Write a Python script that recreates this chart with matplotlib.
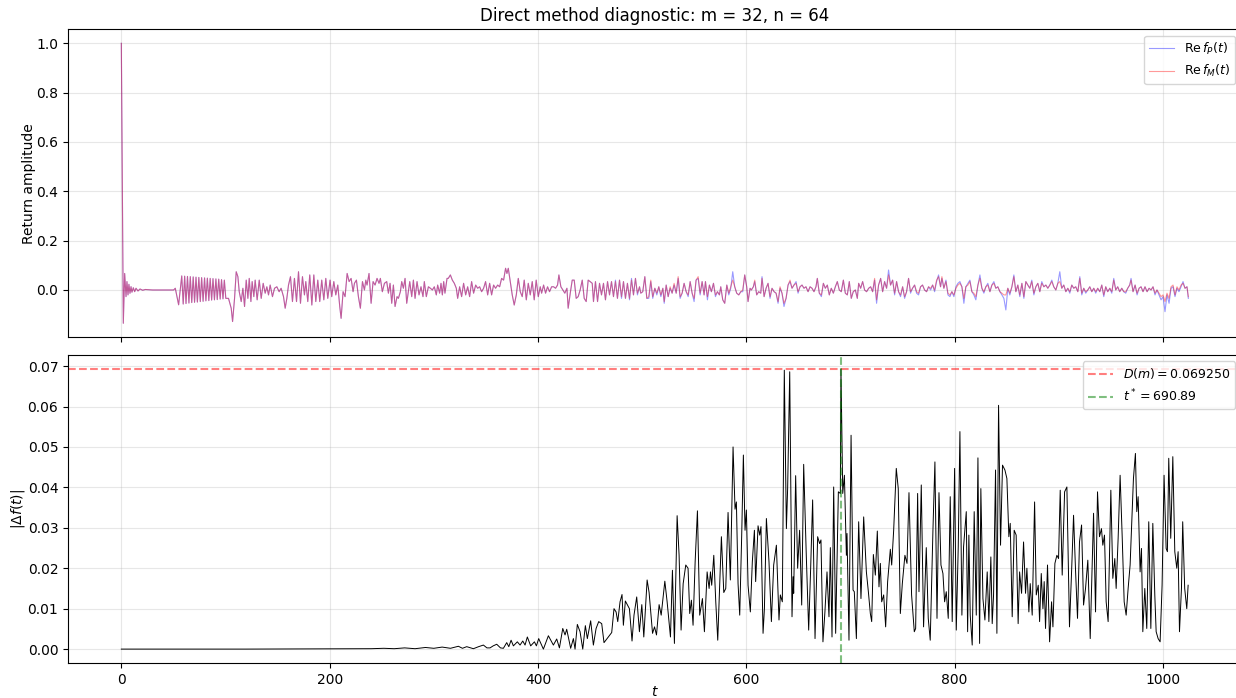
import numpy as np
import matplotlib
matplotlib.use("Agg")
import matplotlib.pyplot as plt

# ---- values ----
m_val = 32
n_val = 64
D_m = 0.069250
t_star = 690.89

# Re f(t): P and M coincide up to t ~ 470
t_early = [0, 1.9, 3.2, 4.5, 5.4, 6.4, 7.3, 8.3, 9.3, 10.2, 11.5, 12.8, 14.1, 16.0, 17.9, 20.5,
           23.0, 30, 40, 50.2, 51.8, 55.0,
           58.0, 59.4, 60.8, 62.1, 63.5, 64.9, 66.2, 67.6, 69.0, 70.3, 71.7, 73.0, 74.4, 75.8,
           77.1, 78.5, 79.9, 81.2, 82.6, 84.0, 85.3, 86.7, 88.0, 89.4, 90.8, 92.1, 93.5, 94.9,
           96.2, 97.6, 98.9, 100.3,
           102.9, 105.5, 106.8, 108.7, 110.3, 111.9, 113.2, 115.1, 116.7, 118.3, 119.9, 121.5,
           122.8, 124.4, 125.6, 127.2, 128.5, 130.4, 132.4, 134.3, 136.2, 138.1, 139.7, 141.3,
           142.9, 145.1, 147.1, 149.3, 151.5, 153.4, 155.7, 157.3, 158.9, 160.5, 162.4, 164.3,
           166.2, 168.2, 170.1, 172.0, 173.9, 175.8, 177.1, 179.0, 180.9, 182.9, 184.8, 186.7,
           188.6, 190.5, 192.4, 194.4, 196.3, 198.2, 200.4, 202.0, 204.0, 205.9, 207.8, 209.7,
           211.0, 212.9, 214.8, 216.8, 218.7, 220.6, 222.5, 223.8, 225.7, 227.6, 229.5, 231.5,
           233.4, 234.7, 235.9, 237.8, 239.8, 241.7, 243.6, 245.5, 247.4, 248.7, 250.6, 252.6,
           254.8, 256.4, 258.0, 259.6, 261.2, 262.8, 264.7, 266.0, 267.9, 269.2, 270.8, 272.4,
           274.0, 275.6, 276.9, 278.8, 280.4, 282.0, 283.9, 285.8, 287.7, 289.6, 290.9, 292.8,
           294.8, 296.7, 298.6, 300.5, 302.4, 303.7, 305.6, 306.9, 308.2, 309.5, 310.7, 312.7,
           313.9, 315.9, 317.8, 319.7, 321.6, 322.9, 324.8, 326.7, 328.6, 330.6, 332.5, 334.4,
           336.3, 338.2, 340.2, 342.1, 344.0, 345.9, 347.8, 349.7, 351.7, 353.6, 355.5, 357.4,
           359.3, 361.3, 363.2, 365.1, 367.0, 368.9, 370.2, 371.5, 373.4, 375.3, 377.2, 379.2,
           381.1, 383.0, 384.9, 386.8, 388.8, 390.7, 392.6, 394.5, 396.4, 398.3, 400.3, 402.2,
           403.5, 405.4, 407.3, 409.2, 411.1, 413.1, 415.0, 416.9, 418.8, 420.1, 422.0, 423.9,
           425.8, 427.8, 429.0, 431.0, 432.9, 434.8, 436.7, 438.6, 440.5, 442.5, 444.4, 446.3,
           448.2, 450.1, 452.1, 453.3, 455.2, 457.2, 459.1, 461.0, 462.9, 464.8, 466.8, 468.7]
re_early = [1.0, -0.135, 0.067, -0.027, 0.034, -0.020, 0.023, -0.0135, 0.0135, -0.009, 0.009, -0.007,
            0.007, -0.004, 0.004, -0.001, 0.002, 0.0, 0.0, 0.0, 0.007, -0.060,
            0.057, -0.057, 0.056, -0.055, 0.055, -0.053, 0.054, -0.051, 0.053, -0.050, 0.052, -0.049,
            0.051, -0.047, 0.050, -0.046, 0.049, -0.044, 0.048, -0.043, 0.047, -0.041, 0.046, -0.040,
            0.045, -0.039, 0.044, -0.037, 0.042, -0.036, 0.040, -0.034,
            -0.034, -0.074, -0.128, -0.034, 0.074, 0.054, -0.007, -0.047, 0.007, -0.067, 0.040, -0.034,
            0.047, -0.047, 0.034, -0.027, 0.040, -0.040, 0.040, -0.034, 0.027, -0.013, 0.013, -0.020,
            0.020, -0.027, 0.007, 0.013, -0.007, 0.007, -0.027, -0.074, -0.034, 0.020, 0.054, -0.047,
            0.047, -0.047, 0.074, -0.054, 0.054, -0.020, 0.034, -0.047, 0.061, -0.061, 0.061, -0.047,
            0.040, -0.047, 0.040, -0.040, 0.047, -0.034, 0.040, -0.027, 0.034, -0.020, 0.020, -0.067,
            -0.115, -0.007, -0.027, 0.067, 0.034, 0.047, -0.007, 0.027, 0.040, -0.027, -0.074, 0.034,
            0.0, 0.040, 0.020, 0.067, -0.054, 0.034, 0.020, 0.047, 0.027, 0.047, -0.007, 0.027,
            0.034, -0.013, 0.027, -0.054, 0.020, -0.067, -0.027, -0.034, -0.007, 0.034, 0.007, 0.047,
            -0.054, -0.007, 0.034, -0.027, 0.040, -0.034, 0.034, -0.020, 0.013, -0.027, 0.034, -0.027,
            0.013, 0.007, 0.0, 0.013, -0.020, 0.020, -0.013, 0.027, -0.020, 0.034, -0.013, 0.047,
            0.047, 0.061, 0.040, 0.027, 0.007, -0.034, 0.013, -0.027, 0.027, -0.020, 0.013, -0.027,
            0.034, -0.013, 0.020, 0.007, 0.013, -0.007, 0.007, 0.034, -0.020, 0.027, -0.020, 0.020,
            0.007, 0.020, 0.013, 0.047, 0.040, 0.088, 0.067, 0.088, 0.034, -0.020, -0.061, -0.020,
            0.047, -0.007, -0.027, 0.040, -0.040, 0.027, -0.020, 0.034, -0.040, 0.040, -0.027, 0.013,
            -0.013, 0.020, -0.013, 0.013, -0.007, 0.013, 0.013, 0.007, 0.020, 0.061, 0.013, 0.0,
            -0.013, 0.007, -0.074, -0.013, 0.040, 0.040, -0.034, -0.027, 0.0, 0.040, -0.034, -0.047,
            0.040, 0.034, 0.027, -0.047, 0.034, -0.047, 0.027, -0.020, 0.027, -0.040, 0.034, -0.020]

# after t ~ 470 the two curves separate slightly
t_late = [470.6, 472.5, 474.4, 476.3, 478.3, 480.2, 482.1, 484.0, 485.9, 487.9, 489.8, 491.7,
          493.6, 495.5, 497.5, 498.7, 500.6, 502.6, 504.5, 506.4, 508.3, 510.2, 512.2, 514.1,
          516.0, 518.0, 519.9, 521.2, 523.1, 525.0, 526.9, 528.8, 530.7, 532.7, 534.6, 536.5,
          538.4, 540.3, 542.3, 544.2, 546.1, 548.0, 549.9, 551.8, 553.8, 555.7, 557.6, 559.5,
          560.8, 562.7, 564.6, 566.5, 568.5, 570.4, 572.3, 574.2, 575.5, 577.4, 579.3, 581.3,
          583.2, 585.1, 587.0, 588.9, 590.8, 592.8, 594.7, 596.6, 598.5, 600.4, 601.7, 603.6,
          604.9, 606.8, 608.1, 610.0, 611.9, 613.9, 615.1, 617.1, 619.0, 620.9, 622.8, 624.7,
          626.7, 628.6, 630.5, 632.4, 634.3, 636.2, 638.2, 640.1, 642.0, 643.9, 645.8, 647.8,
          649.7, 651.6, 653.5, 655.4, 657.3, 659.3, 661.2, 663.1, 665.0, 666.9, 668.2, 670.1,
          672.1, 674.0, 675.9, 677.8, 679.7, 681.6, 683.6, 685.5, 687.4, 689.3, 691.2, 693.2,
          695.1, 697.0, 698.9, 700.8, 702.7, 704.7, 706.6, 707.9, 709.8, 711.7, 713.6, 715.5,
          717.5, 719.4, 721.3, 723.2, 725.1, 727.0, 729.0, 730.9, 732.8, 734.7, 736.6, 738.5,
          740.5, 742.4, 744.3, 746.2, 748.1, 750.1, 752.0, 753.9, 755.8, 757.7, 759.6, 761.6,
          763.5, 765.4, 767.3, 769.2, 771.2, 773.1, 775.0, 777.0, 778.9, 780.8, 782.7, 784.6,
          786.5, 787.8, 789.7, 791.7, 793.6, 795.5, 797.4, 799.3, 801.3, 803.2, 805.1, 807.0,
          808.9, 810.8, 812.8, 814.7, 816.6, 818.5, 820.4, 822.4, 824.3, 826.2, 828.1, 830.0,
          831.9, 833.9, 835.8, 837.7, 839.6, 841.5, 843.5, 845.4, 847.3, 849.2, 851.1, 853.0,
          855.0, 856.9, 858.8, 860.7, 862.6, 864.6, 866.5, 868.4, 870.3, 872.2, 874.1, 876.1,
          878.0, 879.9, 881.8, 883.7, 885.7, 887.6, 889.5, 891.4, 893.3, 895.2, 897.2, 899.1,
          901.0, 902.9, 904.8, 906.8, 908.7, 910.6, 912.5, 914.4, 916.3, 918.3, 920.2, 922.1,
          924.0, 925.9, 927.9, 929.8, 931.7, 933.6, 935.5, 937.4, 939.4, 941.3, 943.2, 945.1,
          947.0, 949.0, 950.9, 952.8, 954.7, 956.6, 958.5, 960.5, 962.4, 964.3, 966.2, 968.1,
          969.4, 971.3, 973.3, 975.2, 977.1, 979.0, 980.9, 982.8, 984.8, 986.7, 988.6, 990.5,
          992.4, 994.3, 996.3, 998.2, 1000.1, 1002.0, 1003.9, 1005.9, 1007.8, 1009.7, 1011.6, 1013.5,
          1015.4, 1017.4, 1019.3, 1021.2, 1023.1, 1024.4]
re_fP_late = [0.034, -0.027, 0.040, -0.034, 0.040, -0.034, 0.034, -0.034, 0.027, -0.040, 0.047, -0.020,
              0.047, -0.020, 0.013, -0.013, -0.007, 0.054, -0.034, -0.034, 0.034, -0.034, 0.007, -0.020,
              0.013, -0.027, 0.007, -0.054, 0.020, -0.027, 0.007, -0.013, 0.020, -0.013, 0.047, -0.034,
              -0.013, 0.027, -0.007, -0.027, 0.034, -0.013, -0.047, 0.040, 0.047, -0.020, 0.034, -0.020,
              0.034, -0.040, 0.020, -0.007, 0.027, -0.027, -0.007, -0.020, 0.013, -0.040, -0.054, 0.020,
              -0.020, 0.007, 0.074, 0.013, -0.013, -0.020, -0.007, -0.007, 0.061, 0.013, -0.047, 0.007,
              0.000, 0.013, 0.034, -0.020, -0.007, -0.013, 0.054, -0.027, 0.007, 0.027, -0.034, 0.007,
              -0.007, -0.013, -0.054, 0.007, -0.013, -0.067, -0.034, 0.020, 0.034, 0.007, 0.020, 0.034,
              -0.013, 0.013, 0.020, 0.007, 0.013, -0.007, 0.013, 0.007, -0.007, 0.013, 0.047, -0.013,
              -0.027, 0.027, 0.007, 0.020, -0.020, 0.007, -0.013, 0.013, 0.034, 0.000, -0.007, 0.040,
              -0.013, -0.020, 0.034, -0.034, -0.007, 0.000, -0.034, 0.027, 0.007, 0.034, 0.000, -0.007,
              0.007, 0.013, -0.007, 0.040, -0.054, 0.020, 0.047, -0.007, 0.034, 0.007, 0.081, 0.020,
              0.040, -0.020, 0.034, -0.007, -0.027, 0.013, -0.034, -0.007, 0.047, -0.013, 0.007, 0.020,
              -0.013, -0.020, 0.013, 0.020, 0.000, -0.007, 0.013, 0.000, 0.020, -0.007, 0.034, 0.061,
              0.013, 0.047, 0.007, 0.040, -0.020, -0.027, -0.007, -0.027, 0.013, 0.027, 0.034, 0.013,
              -0.054, 0.013, 0.027, 0.040, -0.007, -0.020, -0.040, 0.020, 0.061, 0.007, -0.013, 0.013,
              0.027, -0.007, 0.020, 0.034, 0.007, 0.013, -0.007, -0.020, -0.034, -0.081, 0.007, -0.020,
              0.013, 0.061, -0.007, 0.020, -0.027, 0.027, -0.034, 0.034, 0.020, 0.007, 0.040, -0.020,
              0.013, 0.027, -0.007, 0.034, 0.013, 0.020, 0.007, 0.020, 0.040, 0.013, 0.000, 0.027,
              0.074, 0.007, 0.020, -0.007, 0.007, -0.013, 0.020, 0.007, 0.013, -0.007, 0.054, -0.020,
              0.007, -0.013, 0.000, 0.013, -0.007, 0.007, -0.013, 0.007, -0.007, 0.020, -0.027, 0.013,
              -0.007, 0.007, -0.013, 0.047, 0.000, 0.013, -0.007, 0.007, -0.007, -0.013, 0.007, 0.020,
              0.047, -0.007, 0.020, -0.020, 0.007, 0.013, -0.007, 0.013, -0.007, 0.007, 0.000, 0.013,
              -0.020, 0.000, -0.020, -0.040, -0.027, -0.088, -0.020, -0.054, 0.007, 0.013, -0.027, 0.007,
              -0.007, 0.013, 0.034, 0.007, 0.013, -0.034]
re_fM_late = [0.034, -0.027, 0.034, -0.034, 0.040, -0.027, 0.034, -0.034, 0.027, -0.034, 0.040, -0.020,
              0.047, -0.013, 0.013, -0.013, -0.007, 0.054, -0.034, -0.027, 0.040, -0.027, 0.007, -0.013,
              0.013, -0.020, 0.007, -0.047, 0.020, -0.027, 0.013, -0.013, 0.027, -0.013, 0.054, -0.027,
              -0.013, 0.027, -0.007, -0.020, 0.034, -0.013, -0.034, 0.040, 0.054, -0.013, 0.034, -0.020,
              0.034, -0.027, 0.020, -0.007, 0.027, -0.020, -0.007, -0.020, 0.013, -0.040, -0.054, 0.020,
              -0.013, 0.013, 0.040, 0.013, -0.013, -0.020, -0.007, 0.000, 0.061, 0.013, -0.047, 0.007,
              0.000, 0.013, 0.040, -0.020, -0.007, -0.013, 0.047, -0.027, 0.007, 0.027, -0.027, 0.007,
              -0.007, -0.013, -0.047, 0.013, -0.013, -0.054, -0.034, 0.020, 0.040, 0.007, 0.020, 0.027,
              -0.007, 0.013, 0.020, 0.007, 0.013, -0.007, 0.013, 0.007, -0.007, 0.013, 0.047, -0.013,
              -0.020, 0.027, 0.007, 0.020, -0.020, 0.007, -0.013, 0.013, 0.034, 0.000, -0.007, 0.040,
              -0.013, -0.020, 0.034, -0.034, -0.007, 0.000, -0.034, 0.027, 0.007, 0.034, 0.000, -0.007,
              0.007, 0.013, -0.007, 0.047, -0.040, 0.020, 0.047, -0.007, 0.034, 0.007, 0.061, 0.020,
              0.040, -0.013, 0.034, -0.007, -0.020, 0.013, -0.027, -0.007, 0.047, -0.007, 0.007, 0.020,
              -0.007, -0.013, 0.013, 0.020, 0.000, -0.007, 0.013, 0.007, 0.020, 0.000, 0.040, 0.054,
              0.013, 0.054, 0.007, 0.034, -0.013, -0.020, -0.007, -0.020, 0.007, 0.020, 0.027, 0.013,
              -0.034, 0.013, 0.020, 0.034, -0.007, -0.013, -0.027, 0.020, 0.047, 0.007, -0.007, 0.013,
              0.020, -0.007, 0.020, 0.027, 0.007, 0.013, -0.007, -0.013, -0.020, -0.020, 0.007, -0.013,
              0.013, 0.054, -0.007, 0.020, -0.020, 0.027, -0.027, 0.034, 0.020, 0.007, 0.034, -0.013,
              0.013, 0.027, -0.007, 0.027, 0.013, 0.020, 0.007, 0.020, 0.034, 0.013, 0.000, 0.027,
              0.034, 0.007, 0.020, -0.007, 0.007, -0.007, 0.020, 0.007, 0.013, -0.007, 0.047, -0.013,
              0.007, -0.007, 0.000, 0.013, -0.007, 0.007, -0.007, 0.007, -0.007, 0.020, -0.020, 0.013,
              -0.007, 0.007, -0.007, 0.040, 0.000, 0.013, -0.007, 0.007, -0.007, -0.007, 0.007, 0.020,
              0.040, -0.007, 0.020, -0.013, 0.007, 0.013, -0.007, 0.013, -0.007, 0.007, 0.000, 0.013,
              -0.013, 0.000, -0.013, -0.027, -0.020, -0.047, -0.013, -0.034, 0.013, 0.020, -0.020, 0.013,
              0.000, 0.020, 0.027, 0.007, 0.013, -0.027]

# |Delta f(t)|
t_diff = [0, 120, 200, 240, 252, 262, 272, 282, 292, 300, 308, 316, 323.6, 327.5, 331.6, 338,
          343, 347.6, 351, 354, 357, 360.4, 364, 366.8, 370, 372, 374.2, 376.4, 380.2, 382.8,
          385.4, 387.6, 389.8, 393, 396.6, 398.5, 400.7, 405.2, 410, 414.8, 418, 420.6, 423.8,
          426, 427.6, 431.4, 434, 435.6, 437.8, 440.4, 443, 445.5, 447.4, 450.6, 453.2, 455.8,
          458.3, 461.2, 463.4, 467.6, 470.8, 473, 475, 476.6, 478.8, 480.7, 482, 483.9, 485.8,
          487.8, 490.3, 492.2, 494.8, 497.4,
          499.7, 501.6, 504.8, 506.7, 510, 511.9, 513.8, 516.3, 518.3, 521.8, 524, 527.2, 529.1,
          531, 533.6, 535.5, 537.4, 539.4, 541.9, 544.1, 545.7, 547.3, 548.9, 550.9, 553.1, 555.3,
          557.9, 559.8, 562.4, 564.3, 565.6, 566.8, 568.8, 570.7, 572.6, 576.1, 578.4, 580.3,
          582.5, 584.7, 587.3, 589.2, 590.5, 592.1, 593.7, 595.6, 597.2, 598.8, 600.1, 601.7,
          603.9, 605.8, 607.8, 609, 611.3, 612.9, 614.1, 616.1, 617.4, 619.3, 621.8, 624.1,
          626.3, 628.9, 631.4, 632.7, 634.6, 636.5, 638.5, 639.7, 641.7, 643.9, 644.9, 645.5,
          647.4, 649.3, 651.2, 653.2, 655.1, 657.6, 659.9, 661.8, 663.7, 666, 668.5, 670.4,
          671.7, 673.6, 675.5, 677.5, 679.4,
          680.7, 682.3, 683.9, 685.8, 688.4, 690.3, 690.89, 692.6, 694.2, 696.1, 696.7, 698.6,
          700.6, 702.5, 703.7, 705.7, 707.9, 710.1, 712.7, 715.3, 717.2, 719.1, 720.4, 722,
          723.9, 725.8, 727.4, 728.7, 730, 731.9, 733.8, 735.7, 738.3, 739.6, 741.5, 744,
          745.9, 747.9, 749.8, 752.3, 754.3, 756.2, 758.7, 761.3, 762.6, 764.5, 765.8, 768,
          770.2, 772.8, 774.7, 776.6, 779.2, 781.1, 783.1, 785, 786.9, 788.8, 790.4, 792,
          793.9, 795.8, 797.7, 800, 801.6, 803.5, 805.1, 807, 808.6, 811.2, 812.5, 813.7,
          815, 816.9, 818.8, 820.8, 822.4, 824, 825.2, 827.2, 829.1, 831.3, 832.9, 834.8,
          836.1, 837.4, 839.3, 840.6, 842.2, 844.1, 846, 848.3, 850.2, 852.1, 853.4, 855.3,
          857.2, 859.1, 861,
          862.4, 864.3, 866.2, 868.1, 869.4, 871.3, 872.6, 874.5, 876.8, 878.4, 880.3, 881.6,
          883.2, 884.8, 886, 887.3, 889.2, 891.2, 893.1, 894.4, 896.3, 898.2, 899.8, 901.4,
          903.3, 905.6, 907.8, 910.3, 912.3, 914.2, 916.1, 918, 919.9, 921.9, 923.8, 925.7,
          927.9, 930.2, 933.4, 935.3, 937.2, 939.1, 941, 942.3, 943.9, 945.5, 947.4, 950,
          951.9, 953.8, 955.1, 957, 958.9, 960.9, 962.8, 964.7, 966.6, 968.5, 970.5, 971.7,
          973.6, 974.9, 976.2, 978.1, 979.4, 980.7, 982.6, 984.5, 986.4, 988.4, 990.3, 992.2,
          993.5, 995.4, 997.3, 999.2, 1001.1, 1003.1, 1004.3, 1005.6, 1007.5, 1009.5, 1011.4, 1013.3,
          1014.6, 1015.9, 1017.8, 1019, 1020.9, 1022.9, 1024.2]
abs_diff = [0, 0, 0.00005, 0.0001, 0.0002, 0.0001, 0.0003, 0.0001, 0.0004, 0.0002, 0.0005, 0.0002,
            0.0007, 0.0002, 0.0006, 0.0001, 0.0006, 0.001, 0.0003, 0.0003, 0.0008, 0.0012, 0.0003,
            0.0002, 0.0016, 0.0006, 0.0022, 0.0008, 0.0018, 0.001, 0.002, 0.001, 0.003, 0.0008,
            0.0018, 0.0008, 0.0026, 0.0, 0.0033, 0.001, 0.0025, 0.0003, 0.0051, 0.0035, 0.0049,
            0.0002, 0.0026, 0.0, 0.0061, 0.0043, 0.0, 0.0058, 0.0026, 0.007, 0.001, 0.0051, 0.0068,
            0.0063, 0.0016, 0.003, 0.0041, 0.01, 0.0092, 0.0068, 0.0117, 0.0135, 0.0059, 0.0119,
            0.011, 0.01, 0.002, 0.0084, 0.0129, 0.0043,
            0.011, 0.003, 0.0171, 0.014, 0.0039, 0.0055, 0.0035, 0.011, 0.0084, 0.0168, 0.0117,
            0.003, 0.0195, 0.0014, 0.033, 0.0232, 0.0047, 0.0162, 0.0208, 0.02, 0.0088, 0.0121,
            0.0059, 0.0216, 0.0342, 0.0084, 0.0125, 0.0043, 0.0191, 0.015, 0.0191, 0.0158, 0.0232,
            0.0117, 0.0022, 0.0278, 0.014, 0.015, 0.0338, 0.0171, 0.05, 0.0346, 0.0364, 0.0162,
            0.0084, 0.0282, 0.048, 0.0294, 0.0344, 0.0158, 0.0092, 0.0216, 0.0294, 0.0167, 0.0305,
            0.0282, 0.0303, 0.0039, 0.01, 0.0323, 0.0216, 0.0068, 0.0208, 0.0257, 0.0072, 0.0134,
            0.0117, 0.0690, 0.0298, 0.0397, 0.0686, 0.008, 0.0179, 0.0138, 0.0429, 0.02, 0.0294,
            0.0109, 0.0457, 0.0232, 0.0047, 0.02, 0.0369, 0.0026, 0.0278, 0.0261, 0.027, 0.0018,
            0.0092, 0.0191, 0.008,
            0.0251, 0.003, 0.0401, 0.0039, 0.0389, 0.0385, 0.06925, 0.0385, 0.043, 0.0232, 0.0286,
            0.0022, 0.0529, 0.0146, 0.0142, 0.0026, 0.0315, 0.0125, 0.0327, 0.0191, 0.0142, 0.0088,
            0.0068, 0.0234, 0.0183, 0.0292, 0.0154, 0.0212, 0.0117, 0.0134, 0.0055, 0.0167, 0.0247,
            0.0208, 0.0294, 0.0447, 0.0397, 0.0088, 0.0162, 0.0232, 0.0212, 0.0387, 0.0134, 0.0043,
            0.0051, 0.0385, 0.0142, 0.0406, 0.0055, 0.0251, 0.0076, 0.0022, 0.0294, 0.0463, 0.0076,
            0.0387, 0.0208, 0.0187, 0.0117, 0.0142, 0.0076, 0.0377, 0.0068, 0.0447, 0.0047, 0.0253,
            0.0538, 0.0084, 0.0253, 0.034, 0.0043, 0.0282, 0.0084, 0.001, 0.034, 0.0084, 0.0473,
            0.0014, 0.0397, 0.0125, 0.0072, 0.0191, 0.0068, 0.0228, 0.0063, 0.0134, 0.0443, 0.0039,
            0.0603, 0.0257, 0.0455, 0.0443, 0.0422, 0.0278, 0.0311, 0.008, 0.0294, 0.0282, 0.0063,
            0.0191, 0.0138, 0.0265, 0.0138, 0.02, 0.0092, 0.0162, 0.0084, 0.0364, 0.0134, 0.0158,
            0.0068, 0.0187, 0.01, 0.0167, 0.0051, 0.0208, 0.0018, 0.0117, 0.0055, 0.0212, 0.0232,
            0.0224, 0.0393, 0.0183, 0.0389, 0.0401, 0.0055, 0.0191, 0.0331, 0.0195, 0.0076, 0.0265,
            0.0307, 0.0109, 0.015, 0.022, 0.0026, 0.0336, 0.0092, 0.0389, 0.0278, 0.0298, 0.0257,
            0.0282, 0.0117, 0.0068, 0.0393, 0.0175, 0.0224, 0.015, 0.0274, 0.043, 0.0278, 0.0117,
            0.0084, 0.015, 0.0208, 0.034, 0.0422, 0.0484, 0.034, 0.0377, 0.0191, 0.0249, 0.0043,
            0.015, 0.0051, 0.0315, 0.0051, 0.0311, 0.0134, 0.0043, 0.0026, 0.0018, 0.0158, 0.043,
            0.0249, 0.0241, 0.0472, 0.0274, 0.0476, 0.0241, 0.02, 0.0241, 0.0043, 0.015, 0.0315,
            0.015, 0.01, 0.0158]

# ---- build full series ----
t_re = np.array(t_early + t_late)
re_fP = np.array(re_early + re_fP_late)
re_fM = np.array(re_early + re_fM_late)

fig, (ax1, ax2) = plt.subplots(2, 1, sharex=True, figsize=(12.36, 6.98), dpi=100)
fig.subplots_adjust(left=0.055, right=1.0046, top=0.958, bottom=0.05, hspace=0.058)

# top: return amplitudes
ax1.plot(t_re, re_fP, color='blue', lw=0.8, alpha=0.4, label=r'$\mathrm{Re}\,f_P(t)$')
ax1.plot(t_re, re_fM, color='red', lw=0.8, alpha=0.4, label=r'$\mathrm{Re}\,f_M(t)$')
ax1.set_ylabel('Return amplitude', labelpad=0.5)
ax1.set_title('Direct method diagnostic: m = %d, n = %d' % (m_val, n_val))
ax1.grid(True, alpha=0.3)
ax1.legend(loc='upper right', fontsize=9)

# bottom: difference
ax2.plot(t_diff, abs_diff, color='black', lw=0.7)
ax2.axhline(D_m, color='red', ls='--', lw=1.5, alpha=0.5, label=r'$D(m) = %.6f$' % D_m)
ax2.axvline(t_star, color='green', ls='--', lw=1.5, alpha=0.5, label=r'$t^* = %.2f$' % t_star)
ax2.set_xlabel(r'$t$', labelpad=-1.5)
ax2.set_ylabel(r'$|\Delta f(t)|$', labelpad=0.5)
ax2.grid(True, alpha=0.3)
ax2.legend(loc='upper right', fontsize=9)

fig.savefig('out.png', dpi=100)
